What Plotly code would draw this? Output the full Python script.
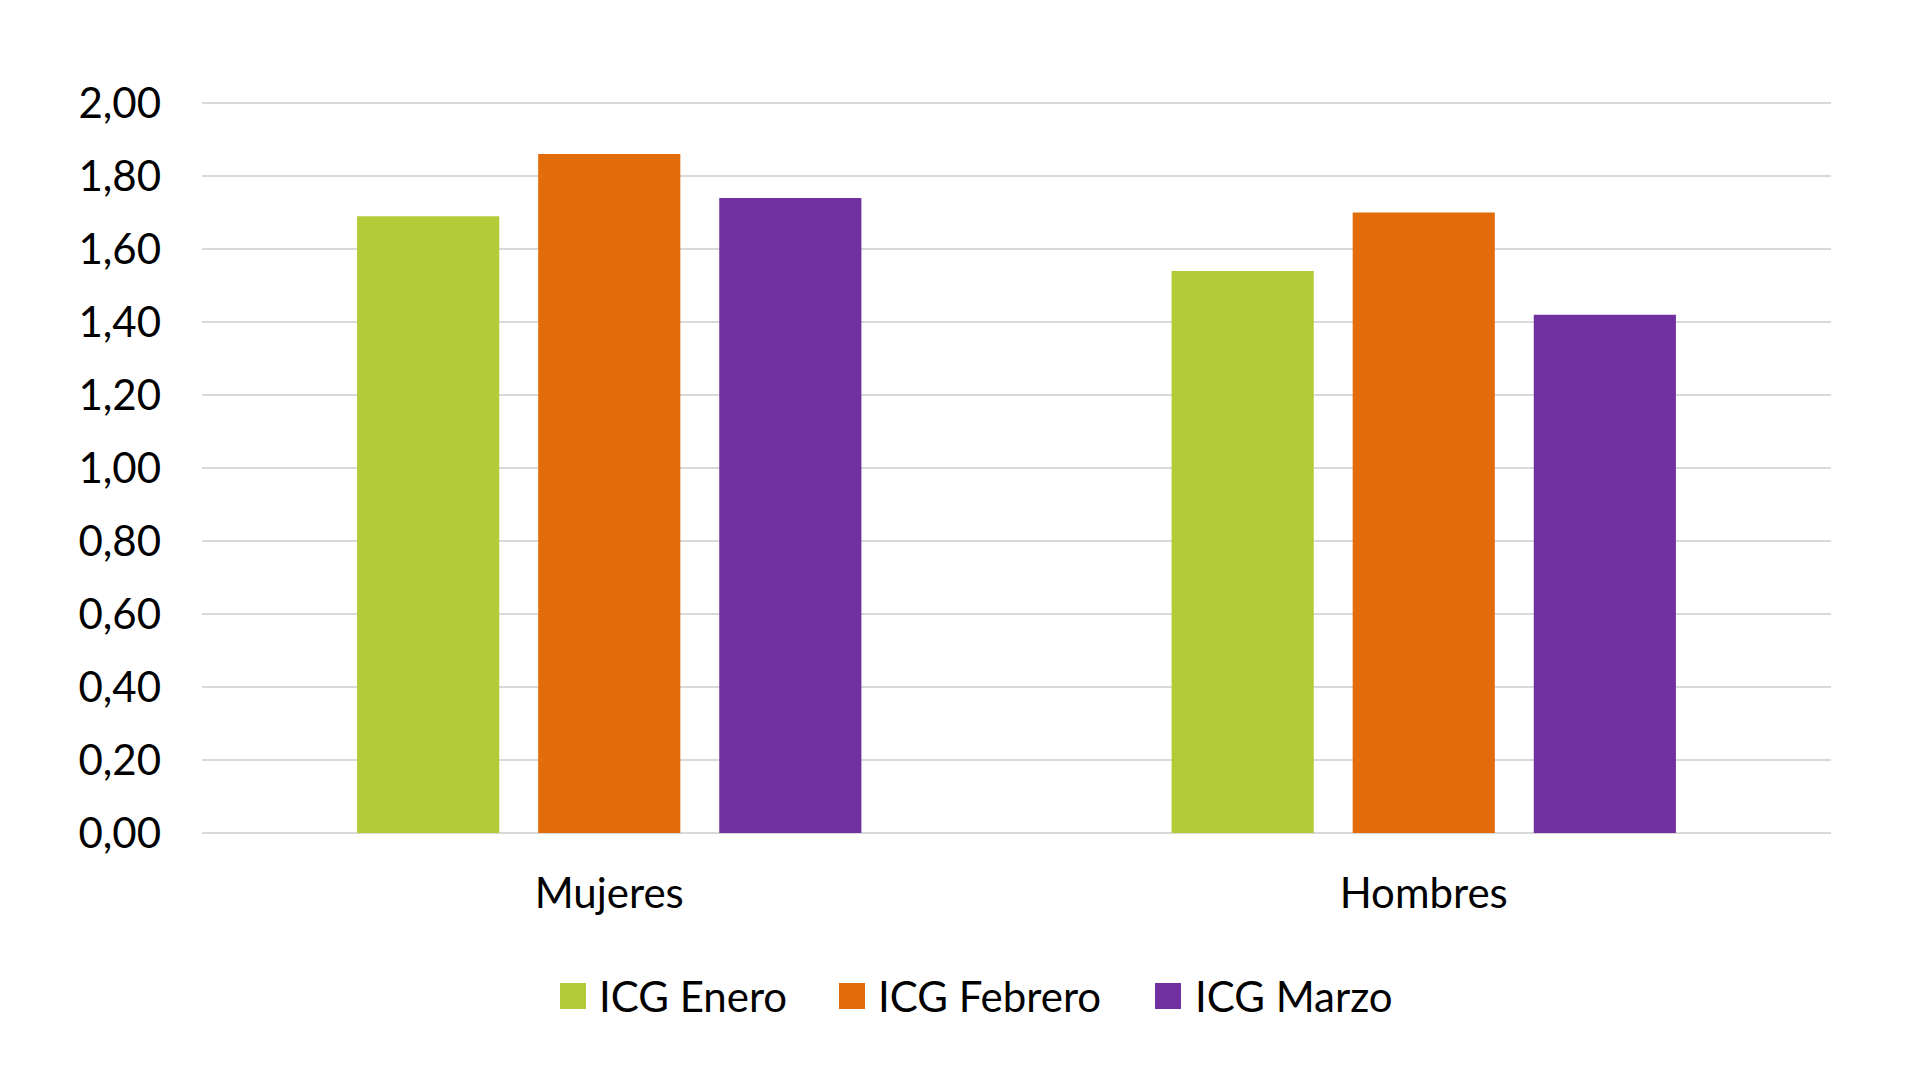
import plotly.graph_objects as go

categories = ["Mujeres", "Hombres"]
series_names = ["ICG Enero", "ICG Febrero", "ICG Marzo"]
icg_enero = [1.69, 1.54]
icg_febrero = [1.86, 1.70]
icg_marzo = [1.74, 1.42]
tick_values = [0, 0.2, 0.4, 0.6, 0.8, 1.0, 1.2, 1.4, 1.6, 1.8, 2.0]

colors = ["#B3CB37", "#E36C0A", "#7030A0"]
FONT = "Lato"

# layout geometry (pixels)
L, R, T, B = 202, 89, 101, 246
W, H = 1920, 1079
plot_w = W - L - R
plot_h = H - T - B
y_max = 2.0 + 2.0 * 2 / 730  # small headroom so top gridline is drawn

fig = go.Figure()
for name, vals, col in zip(series_names, [icg_enero, icg_febrero, icg_marzo], colors):
    fig.add_trace(go.Bar(x=categories, y=vals, name=name, marker_color=col,
                         marker_line_width=0, showlegend=False))

# manual legend (larger swatches than Plotly's built-in legend allows)
legend_square_x = [560, 839, 1155]
legend_text_x = [597, 876, 1193]
legend_y = 996
sq = 26
def px_to_paper_x(px):
    return (px - L) / plot_w
def px_to_paper_y(py):
    return (H - B - py) / plot_h

shapes = []
annotations = []
for name, col, sx, tx in zip(series_names, colors, legend_square_x, legend_text_x):
    shapes.append(dict(type="rect", xref="paper", yref="paper",
                       x0=px_to_paper_x(sx), x1=px_to_paper_x(sx + sq),
                       y0=px_to_paper_y(legend_y + sq / 2), y1=px_to_paper_y(legend_y - sq / 2),
                       fillcolor=col, line=dict(width=0)))
    annotations.append(dict(text=name, xref="paper", yref="paper",
                            x=px_to_paper_x(tx), y=px_to_paper_y(legend_y),
                            xanchor="left", yanchor="middle", showarrow=False,
                            font=dict(family=FONT, size=42, color="#000000")))

fig.update_layout(
    width=W, height=H,
    margin=dict(l=L, r=R, t=T, b=B),
    paper_bgcolor="white", plot_bgcolor="white",
    barmode="group", bargap=0.333, bargroupgap=0.215,
    separators=",.",
    font=dict(family=FONT, size=42, color="#000000"),
    showlegend=False,
    shapes=shapes, annotations=annotations,
)
fig.update_yaxes(range=[0, y_max], tickvals=tick_values, tickformat=".2f",
                 showgrid=True, gridcolor="#D9D9D9", gridwidth=2,
                 zeroline=True, zerolinecolor="#D9D9D9", zerolinewidth=2,
                 showline=False, ticks="", ticklabelstandoff=40,
                 tickfont=dict(family=FONT, size=42, color="#000000"))
fig.update_xaxes(showgrid=False, showline=False, ticks="", ticklabelstandoff=32,
                 tickfont=dict(family=FONT, size=42, color="#000000"))

fig.write_html("out.html")
